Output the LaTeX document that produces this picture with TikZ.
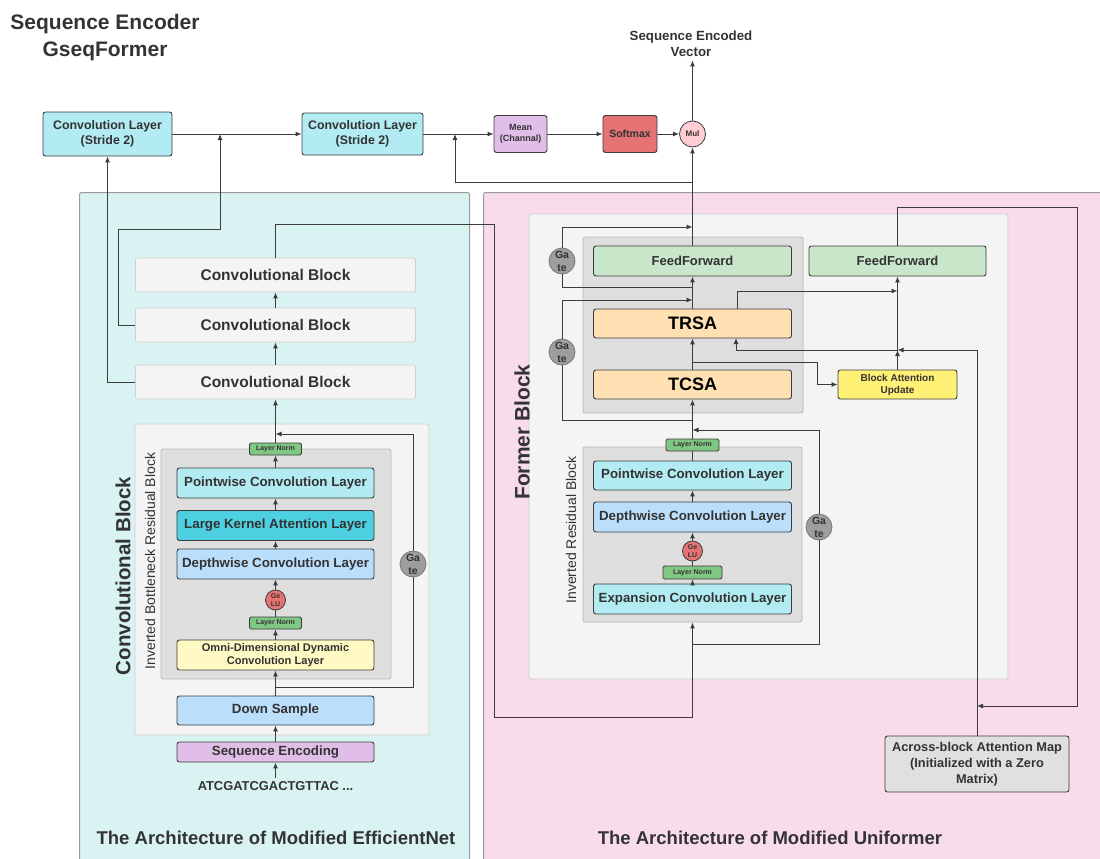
\documentclass[tikz,border=0pt]{standalone}
\usepackage{fontspec}
\setmainfont{Liberation Sans}
\usepackage{xcolor}
\usepackage{tikz}
\usetikzlibrary{arrows.meta}
\definecolor{EncInk}{HTML}{333333}
\definecolor{EncLine}{HTML}{3C3C3C}
\definecolor{EncEdge}{HTML}{9A9A9A}
\definecolor{EncAqua}{HTML}{D9F3F3}
\definecolor{EncRose}{HTML}{F9DCEB}
\definecolor{EncFrame}{HTML}{F4F4F4}
\definecolor{EncFrameEdge}{HTML}{CFCFCF}
\definecolor{EncInner}{HTML}{DEDEDE}
\definecolor{EncInnerEdge}{HTML}{B8B8B8}
\definecolor{EncCyan}{HTML}{B2EBF2}
\definecolor{EncTeal}{HTML}{4DD0E1}
\definecolor{EncBlue}{HTML}{BBDEFB}
\definecolor{EncYellow}{HTML}{FFF9C4}
\definecolor{EncPurple}{HTML}{E1BEE7}
\definecolor{EncRed}{HTML}{E57373}
\definecolor{EncPink}{HTML}{FFCDD2}
\definecolor{EncGreen}{HTML}{81C784}
\definecolor{EncMint}{HTML}{C8E6C9}
\definecolor{EncOrange}{HTML}{FFE0B2}
\definecolor{EncLemon}{HTML}{FFF176}
\definecolor{EncGate}{HTML}{9E9E9E}
\definecolor{EncGateEdge}{HTML}{777777}
\definecolor{EncGrayBox}{HTML}{E0E0E0}

\begin{document}
\begin{tikzpicture}[
  x=1pt, y=-1pt,
  every node/.style={text=EncInk},
  panel/.style={draw=EncEdge, line width=1pt, rounded corners=2pt, inner sep=0pt, anchor=north west, minimum height=700pt},
  frame/.style={draw=EncFrameEdge, fill=EncFrame, line width=0.8pt, rounded corners=2pt, inner sep=0pt},
  inner/.style={draw=EncInnerEdge, fill=EncInner, line width=0.8pt, rounded corners=2pt, inner sep=0pt},
  layer/.style={draw=EncLine, line width=0.9pt, rounded corners=2.5pt, minimum width=197pt, minimum height=30pt, inner sep=0pt, align=center, font=\fontsize{13.3}{16}\selectfont\bfseries},
  block/.style={draw=EncFrameEdge, fill=EncFrame, line width=0.8pt, rounded corners=2pt, minimum width=280pt, minimum height=34pt, font=\fontsize{15.5}{18}\selectfont\bfseries},
  norm/.style={draw=EncLine, fill=EncGreen, line width=0.8pt, rounded corners=1.5pt, minimum width=52pt, minimum height=12pt, inner sep=0pt, font=\fontsize{7}{8}\selectfont\bfseries},
  gelu/.style={circle, draw=EncLine, fill=EncRed, line width=0.8pt, minimum size=20pt, inner sep=0pt, align=center, font=\fontsize{7}{8.5}\selectfont\bfseries},
  gate/.style={circle, draw=EncGateEdge, fill=EncGate, line width=0.8pt, minimum size=26pt, inner sep=0pt, align=center, font=\fontsize{10.5}{13}\selectfont\bfseries},
  arrow/.style={-{Latex[length=6pt,width=5pt]}, line width=1pt, draw=EncLine},
  link/.style={line width=1pt, draw=EncLine}
]
  \useasboundingbox (0,0) rectangle (1100,859);
  \begin{scope}
    \clip (0,0) rectangle (1100,859);
    \node[panel, fill=EncAqua, minimum width=390pt] (effnet) at (79,192) {};
    \node[panel, fill=EncRose, minimum width=650pt] (uniformer) at (483,192) {};
  \end{scope}
  \node[font=\fontsize{18.5}{22}\selectfont\bfseries] (effTitle) at (276,838) {The Architecture of Modified EfficientNet};
  \node[font=\fontsize{18.5}{22}\selectfont\bfseries] (uniTitle) at (770,838) {The Architecture of Modified Uniformer};
  \node[align=center, font=\fontsize{21}{27}\selectfont\bfseries] (title) at (105,38) {Sequence Encoder\\GseqFormer};

  \node[layer, fill=EncCyan, minimum width=129pt, minimum height=44pt, font=\fontsize{12.4}{15}\selectfont\bfseries] (conv1) at (107.5,134) {Convolution Layer\\(Stride 2)};
  \node[layer, fill=EncCyan, minimum width=121pt, minimum height=42pt, font=\fontsize{12.4}{15}\selectfont\bfseries] (conv2) at (362.5,134) {Convolution Layer\\(Stride 2)};
  \node[layer, fill=EncPurple, minimum width=53pt, minimum height=37pt, font=\fontsize{9}{11.5}\selectfont\bfseries] (mean) at (520.5,134) {Mean\\(Channal)};
  \node[layer, fill=EncRed, minimum width=54pt, minimum height=37pt, font=\fontsize{10.5}{12}\selectfont\bfseries] (softmax) at (630,134) {Softmax};
  \node[circle, draw=EncLine, fill=EncPink, line width=0.8pt, minimum size=26pt, inner sep=0pt, font=\fontsize{8}{9}\selectfont\bfseries] (mul) at (692.5,134) {Mul};
  \node[align=center, font=\fontsize{13.3}{16}\selectfont\bfseries] (vec) at (691,44) {Sequence Encoded\\Vector};

  \node[block] (cb3) at (275.5,275) {Convolutional Block};
  \node[block] (cb2) at (275.5,325) {Convolutional Block};
  \node[block] (cb1) at (275.5,382) {Convolutional Block};
  \node[frame, minimum width=294pt, minimum height=311pt] (cbFrame) at (282,579.5) {};
  \node[rotate=90, font=\fontsize{20.5}{24}\selectfont\bfseries] (cbLabel) at (123,576) {Convolutional Block};
  \node[inner, minimum width=230pt, minimum height=230pt] (ibrb) at (276,564) {};
  \node[rotate=90, font=\fontsize{14}{16}\selectfont] (ibrbLabel) at (150,561) {Inverted Bottleneck Residual Block};
  \node[norm] (lnA1) at (275.5,449) {Layer Norm};
  \node[layer, fill=EncCyan] (pwA) at (275.5,483) {Pointwise Convolution Layer};
  \node[layer, fill=EncTeal] (lka) at (275.5,525.5) {Large Kernel Attention Layer};
  \node[layer, fill=EncBlue] (dwA) at (275.5,564) {Depthwise Convolution Layer};
  \node[gelu] (geluA) at (275.5,600) {Ge\\LU};
  \node[norm] (lnA2) at (275.5,623) {Layer Norm};
  \node[layer, fill=EncYellow, font=\fontsize{11.1}{13}\selectfont\bfseries] (omni) at (275.5,655) {Omni-Dimensional Dynamic\\Convolution Layer};
  \node[layer, fill=EncBlue, minimum height=29pt] (down) at (275.5,710.5) {Down Sample};
  \node[layer, fill=EncPurple, minimum height=20pt] (seqenc) at (275.5,752) {Sequence Encoding};
  \node[font=\fontsize{12.9}{15}\selectfont\bfseries] (dna) at (275.5,786) {ATCGATCGACTGTTAC ...};
  \node[gate] (gateA) at (413,564) {Ga\\te};

  \node[frame, minimum width=479pt, minimum height=465pt] (fbFrame) at (768.5,446.5) {};
  \node[inner, minimum width=220pt, minimum height=176pt] (attn) at (693,325) {};
  \node[rotate=90, font=\fontsize{21}{24}\selectfont\bfseries] (fbLabel) at (522,432) {Former Block};
  \node[layer, fill=EncMint, minimum width=198pt, font=\fontsize{13}{15}\selectfont\bfseries] (ff1) at (692.5,261) {FeedForward};
  \node[layer, fill=EncOrange, minimum width=198pt, minimum height=29pt, font=\fontsize{18}{20}\selectfont\bfseries, text=black] (trsa) at (692.5,323.5) {TRSA};
  \node[layer, fill=EncOrange, minimum width=198pt, minimum height=29pt, font=\fontsize{18}{20}\selectfont\bfseries, text=black] (tcsa) at (692.5,384.5) {TCSA};
  \node[layer, fill=EncMint, minimum width=177pt, font=\fontsize{13}{15}\selectfont\bfseries] (ff2) at (897.5,261) {FeedForward};
  \node[layer, fill=EncLemon, minimum width=119pt, minimum height=29pt, font=\fontsize{10}{12}\selectfont\bfseries] (bau) at (897.5,384.5) {Block Attention\\Update};
  \node[gate] (gateB1) at (562,261) {Ga\\te};
  \node[gate] (gateB2) at (562,352) {Ga\\te};
  \node[inner, minimum width=219pt, minimum height=175pt] (irb) at (692.5,534.5) {};
  \node[rotate=90, font=\fontsize{14}{16}\selectfont] (irbLabel) at (571,530) {Inverted Residual Block};
  \node[norm, minimum width=53pt] (lnB1) at (692.5,445) {Layer Norm};
  \node[layer, fill=EncCyan, minimum width=198pt, minimum height=29pt] (pwB) at (692.5,475.5) {Pointwise Convolution Layer};
  \node[layer, fill=EncBlue, minimum width=198pt] (dwB) at (692.5,517) {Depthwise Convolution Layer};
  \node[gelu] (geluB) at (692.5,551) {Ge\\LU};
  \node[norm, minimum width=59pt, minimum height=13pt] (lnB2) at (692.5,572.5) {Layer Norm};
  \node[layer, fill=EncCyan, minimum width=198pt] (expn) at (692.5,599) {Expansion Convolution Layer};
  \node[gate] (gateB3) at (819,527) {Ga\\te};
  \node[layer, fill=EncGrayBox, minimum width=184pt, minimum height=56pt, font=\fontsize{12.8}{16}\selectfont\bfseries] (across) at (977,764) {Across-block Attention Map\\(Initialized with a Zero\\Matrix)};

  \coordinate (joinA) at (220,134);
  \coordinate (joinB) at (455,134);
  \coordinate (tapF) at (692.5,182);
  \coordinate (splitA) at (275.5,687);
  \coordinate (mergeA) at (275.5,434);
  \coordinate (loopB) at (692.5,717);
  \coordinate (splitB) at (692.5,644);
  \coordinate (mergeB) at (692.5,430);
  \coordinate (splitC) at (692.5,420);
  \coordinate (mergeC) at (692.5,300);
  \coordinate (splitD) at (692.5,287);
  \coordinate (mergeD) at (692.5,227);
  \coordinate (tapT) at (692.5,362);
  \coordinate (trsaOut) at (737,309);
  \coordinate (trsaIn) at (736,338);
  \coordinate (ffJ) at (897.5,291);
  \coordinate (mapJ) at (897.5,350);
  \coordinate (mapIn) at (977,706);

  \draw[arrow] (conv1) -- (conv2);
  \draw[arrow] (conv2) -- (mean);
  \draw[arrow] (mean) -- (softmax);
  \draw[arrow] (softmax) -- (mul);
  \draw[arrow] (mul) -- (mul |- vec.south);
  \draw[arrow] (ff1) -- (mul);
  \draw[arrow] (tapF) -| (joinB);
  \draw[arrow] (cb1.west) -| (conv1.south);
  \draw[arrow] (cb2.west) -| (118,229) -| (joinA);
  \draw[arrow] (cb3) |- (494,224) |- (loopB) -- (irb.south);

  \draw[arrow] (dna) -- (seqenc);
  \draw[arrow] (seqenc) -- (down);
  \draw[arrow] (down) -- (omni);
  \draw[arrow] (omni) -- (lnA2);
  \draw[link] (lnA2) -- (geluA);
  \draw[arrow] (geluA) -- (dwA);
  \draw[arrow] (dwA) -- (lka);
  \draw[arrow] (lka) -- (pwA);
  \draw[arrow] (pwA) -- (lnA1);
  \draw[arrow] (lnA1) -- (cb1);
  \draw[arrow] (cb1) -- (cb2);
  \draw[arrow] (cb2) -- (cb3);
  \draw[link] (splitA) -| (gateA);
  \draw[arrow] (gateA) |- (mergeA);

  \draw[arrow] (expn) -- (lnB2);
  \draw[link] (lnB2) -- (geluB);
  \draw[arrow] (geluB) -- (dwB);
  \draw[arrow] (dwB) -- (pwB);
  \draw[link] (pwB) -- (lnB1);
  \draw[arrow] (lnB1) -- (tcsa);
  \draw[link] (splitB) -| (gateB3);
  \draw[arrow] (gateB3) |- (mergeB);
  \draw[arrow] (tcsa) -- (trsa);
  \draw[arrow] (tapT) -| (817,384.5) -- (bau.west);
  \draw[link] (splitC) -| (gateB2);
  \draw[arrow] (gateB2) |- (mergeC);
  \draw[arrow] (trsa) -- (ff1);
  \draw[link] (splitD) -| (gateB1);
  \draw[arrow] (gateB1) |- (mergeD);
  \draw[arrow] (trsaOut) |- (ffJ);
  \draw[arrow] (across) |- (mapJ);
  \draw[arrow] (mapJ) -| (trsaIn);
  \draw[arrow] (bau) -- (mapJ);
  \draw[arrow] (mapJ) -- (ff2);
  \draw[arrow] (ff2) |- (1077,207) |- (mapIn);
\end{tikzpicture}
\end{document}
